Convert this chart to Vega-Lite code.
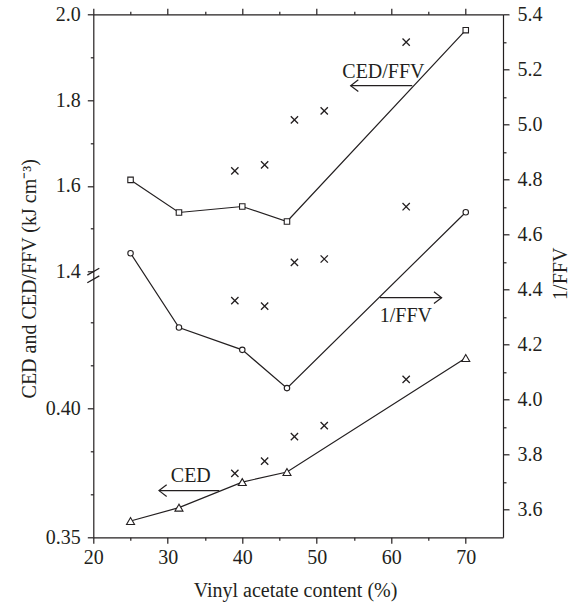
{
  "$schema": "https://vega.github.io/schema/vega-lite/v6.json",
  "width": 409.7,
  "height": 523,
  "autosize": {"type": "none"},
  "padding": {"left": 93.3, "top": 14.3, "right": 75, "bottom": 70.7},
  "background": "white",
  "config": {
    "view": {"stroke": null},
    "axis": {
      "grid": false,
      "domainColor": "#231f20",
      "domainWidth": 1.2,
      "tickColor": "#231f20",
      "tickWidth": 1.2,
      "labelFontSize": 20,
      "labelColor": "#231f20",
      "titleFontSize": 20,
      "titleFontWeight": "normal",
      "titleColor": "#231f20",
      "labelOverlap": false,
      "labelBound": false,
      "labelFlush": false
    }
  },
  "datasets": {
    "left": [
      {"content": 25, "value": 1.614, "quantity": "CED/FFV", "source": "measured"},
      {"content": 31.5, "value": 1.538, "quantity": "CED/FFV", "source": "measured"},
      {"content": 40, "value": 1.552, "quantity": "CED/FFV", "source": "measured"},
      {"content": 46, "value": 1.517, "quantity": "CED/FFV", "source": "measured"},
      {"content": 70, "value": 1.963, "quantity": "CED/FFV", "source": "measured"},
      {"content": 25, "value": 0.3563, "quantity": "CED", "source": "measured"},
      {"content": 31.5, "value": 0.3615, "quantity": "CED", "source": "measured"},
      {"content": 40, "value": 0.3714, "quantity": "CED", "source": "measured"},
      {"content": 46, "value": 0.3753, "quantity": "CED", "source": "measured"},
      {"content": 70, "value": 0.4195, "quantity": "CED", "source": "measured"},
      {"content": 39, "value": 1.635, "quantity": "CED/FFV", "source": "other"},
      {"content": 43, "value": 1.649, "quantity": "CED/FFV", "source": "other"},
      {"content": 47, "value": 1.754, "quantity": "CED/FFV", "source": "other"},
      {"content": 51, "value": 1.775, "quantity": "CED/FFV", "source": "other"},
      {"content": 62, "value": 1.935, "quantity": "CED/FFV", "source": "other"},
      {"content": 39, "value": 0.3748, "quantity": "CED", "source": "other"},
      {"content": 43, "value": 0.3795, "quantity": "CED", "source": "other"},
      {"content": 47, "value": 0.389, "quantity": "CED", "source": "other"},
      {"content": 51, "value": 0.3933, "quantity": "CED", "source": "other"},
      {"content": 62, "value": 0.4112, "quantity": "CED", "source": "other"}
    ],
    "right": [
      {"content": 25, "value": 4.532, "source": "measured"},
      {"content": 31.5, "value": 4.262, "source": "measured"},
      {"content": 40, "value": 4.181, "source": "measured"},
      {"content": 46, "value": 4.042, "source": "measured"},
      {"content": 70, "value": 4.681, "source": "measured"},
      {"content": 39, "value": 4.36, "source": "other"},
      {"content": 43, "value": 4.34, "source": "other"},
      {"content": 47, "value": 4.499, "source": "other"},
      {"content": 51, "value": 4.511, "source": "other"},
      {"content": 62, "value": 4.701, "source": "other"}
    ],
    "notesLeft": [
      {"label": "CED/FFV", "content": 58.95, "value": 1.852, "arrow_from": 62.82, "arrow_to": 54.55, "arrow_at": 1.8336},
      {"label": "CED", "content": 33.09, "value": 0.3713, "arrow_from": 36.91, "arrow_to": 28.82, "arrow_at": 0.3681}
    ],
    "notesRight": [
      {"label": "1/FFV", "content": 61.97, "value": 4.283, "arrow_from": 58.48, "arrow_to": 66.76, "arrow_at": 4.3706}
    ],
    "breaks": [
      {"content": 20, "value": 1.4},
      {"content": 20, "value": 0.45}
    ]
  },
  "resolve": {
    "scale": {"y": "independent"},
    "axis": {"x": "independent", "y": "independent"}
  },
  "layer": [
    {
      "data": {"name": "left"},
      "transform": [{"filter": "datum.source === 'measured'"}],
      "mark": {"type": "line", "color": "#231f20", "strokeWidth": 1.2},
      "encoding": {
        "x": {
          "field": "content", "type": "quantitative",
          "scale": {"domain": [20, 75], "nice": false, "zero": false},
          "axis": {
            "orient": "bottom",
            "values": [20, 30, 40, 50, 60, 70],
            "tickSize": 6,
            "labelPadding": 4,
            "labelFont": {"expr": "'Liberation Serif'"},
            "titleFont": {"expr": "'Liberation Serif'"},
            "title": "Vinyl acetate content (%)",
            "titleX": 201.7,
            "titleY": 59,
            "titleAlign": "center",
            "titleBaseline": "alphabetic"
          }
        },
        "y": {
          "field": "value", "type": "quantitative",
          "scale": {"domain": [0.35, 0.45, 1.4, 2.0], "range": [523, 265, 257.4, 0], "nice": false, "zero": false},
          "axis": {
            "orient": "left",
            "values": [0.35, 0.4, 1.4, 1.6, 1.8, 2.0],
            "labelExpr": "datum.value < 1 ? format(datum.value, '.2f') : format(datum.value, '.1f')",
            "tickSize": 6,
            "labelPadding": 7,
            "labelFont": {"expr": "'Liberation Serif'"},
            "titleFont": {"expr": "'Liberation Serif'"},
            "title": "CED and CED/FFV (kJ cm⁻³)",
            "titleX": -58,
            "titleY": 264,
            "titleAngle": 270,
            "titleAlign": "center",
            "titleBaseline": "alphabetic"
          }
        },
        "detail": {"field": "quantity", "type": "nominal"}
      }
    },
    {
      "data": {"name": "left"},
      "transform": [{"filter": "datum.source === 'measured'"}],
      "mark": {"type": "point", "filled": true, "fill": "white", "stroke": "#231f20", "strokeWidth": 1.1, "opacity": 1},
      "encoding": {
        "x": {"field": "content", "type": "quantitative", "scale": {"domain": [20, 75], "nice": false, "zero": false}, "axis": null},
        "y": {"field": "value", "type": "quantitative", "scale": {"domain": [0.35, 0.45, 1.4, 2.0], "range": [523, 265, 257.4, 0], "nice": false, "zero": false}, "axis": null},
        "shape": {"condition": {"test": "datum.quantity === 'CED'", "value": "triangle-up"}, "value": "square"},
        "size": {"condition": {"test": "datum.quantity === 'CED'", "value": 64}, "value": 30}
      }
    },
    {
      "data": {"name": "left"},
      "transform": [{"filter": "datum.source === 'other'"}],
      "mark": {"type": "point", "shape": "M-1,-1L1,1M-1,1L1,-1", "filled": false, "stroke": "#231f20", "strokeWidth": 1.3, "size": 53, "opacity": 1},
      "encoding": {
        "x": {
          "field": "content", "type": "quantitative",
          "scale": {"domain": [20, 75], "nice": false, "zero": false},
          "axis": {"orient": "bottom", "values": [25, 35, 45, 55, 65], "tickSize": 3, "labels": false, "domain": false, "title": null}
        },
        "y": {
          "field": "value", "type": "quantitative",
          "scale": {"domain": [0.35, 0.45, 1.4, 2.0], "range": [523, 265, 257.4, 0], "nice": false, "zero": false},
          "axis": {"orient": "left", "values": [0.366667, 0.383333, 0.416667, 0.433333, 1.5, 1.7, 1.9], "tickSize": 3, "labels": false, "domain": false, "title": null}
        }
      }
    },
    {
      "data": {"name": "notesLeft"},
      "mark": {"type": "rule", "color": "#231f20", "strokeWidth": 1.2},
      "encoding": {
        "x": {"field": "arrow_from", "type": "quantitative", "scale": {"domain": [20, 75], "nice": false, "zero": false}, "axis": null},
        "x2": {"field": "arrow_to"},
        "y": {"field": "arrow_at", "type": "quantitative", "scale": {"domain": [0.35, 0.45, 1.4, 2.0], "range": [523, 265, 257.4, 0], "nice": false, "zero": false}, "axis": null}
      }
    },
    {
      "data": {"name": "notesLeft"},
      "mark": {"type": "point", "filled": false, "stroke": "#231f20", "strokeWidth": 1.2, "size": 139, "opacity": 1},
      "encoding": {
        "x": {"field": "arrow_to", "type": "quantitative", "scale": {"domain": [20, 75], "nice": false, "zero": false}, "axis": null},
        "y": {"field": "arrow_at", "type": "quantitative", "scale": {"domain": [0.35, 0.45, 1.4, 2.0], "range": [523, 265, 257.4, 0], "nice": false, "zero": false}, "axis": null},
        "shape": {"condition": {"test": "datum.arrow_to < datum.arrow_from", "value": "M1.3,-1L0,0L1.3,1"}, "value": "M-1.3,-1L0,0L-1.3,1"}
      }
    },
    {
      "data": {"name": "notesLeft"},
      "mark": {"type": "text", "font": "Liberation Serif", "fontSize": 20, "color": "#231f20", "align": "center", "baseline": "alphabetic"},
      "encoding": {
        "x": {"field": "content", "type": "quantitative", "scale": {"domain": [20, 75], "nice": false, "zero": false}, "axis": null},
        "y": {"field": "value", "type": "quantitative", "scale": {"domain": [0.35, 0.45, 1.4, 2.0], "range": [523, 265, 257.4, 0], "nice": false, "zero": false}, "axis": null},
        "text": {"field": "label"}
      }
    },
    {
      "data": {"name": "breaks"},
      "mark": {"type": "point", "shape": "M-1,0.58L1,-0.58", "filled": false, "stroke": "#231f20", "strokeWidth": 1.3, "size": 144, "opacity": 1},
      "encoding": {
        "x": {"field": "content", "type": "quantitative", "scale": {"domain": [20, 75], "nice": false, "zero": false}, "axis": null},
        "y": {"field": "value", "type": "quantitative", "scale": {"domain": [0.35, 0.45, 1.4, 2.0], "range": [523, 265, 257.4, 0], "nice": false, "zero": false}, "axis": null}
      }
    },
    {
      "data": {"name": "right"},
      "transform": [{"filter": "datum.source === 'measured'"}],
      "mark": {"type": "line", "color": "#231f20", "strokeWidth": 1.2},
      "encoding": {
        "x": {
          "field": "content", "type": "quantitative",
          "scale": {"domain": [20, 75], "nice": false, "zero": false},
          "axis": {"orient": "top", "values": [20, 30, 40, 50, 60, 70], "tickSize": 6, "labels": false, "title": null}
        },
        "y": {
          "field": "value", "type": "quantitative",
          "scale": {"domain": [3.5, 5.4], "nice": false, "zero": false},
          "axis": {
            "orient": "right",
            "values": [3.6, 3.8, 4.0, 4.2, 4.4, 4.6, 4.8, 5.0, 5.2, 5.4],
            "format": ".1f",
            "tickSize": 6,
            "labelPadding": 8,
            "labelFont": {"expr": "'Liberation Serif'"},
            "titleFont": {"expr": "'Liberation Serif'"},
            "title": "1/FFV",
            "titleX": 63,
            "titleY": 259,
            "titleAngle": 270,
            "titleAlign": "center",
            "titleBaseline": "alphabetic"
          }
        }
      }
    },
    {
      "data": {"name": "right"},
      "transform": [{"filter": "datum.source === 'measured'"}],
      "mark": {"type": "point", "shape": "circle", "filled": true, "fill": "white", "stroke": "#231f20", "strokeWidth": 1.1, "size": 30, "opacity": 1},
      "encoding": {
        "x": {"field": "content", "type": "quantitative", "scale": {"domain": [20, 75], "nice": false, "zero": false}, "axis": null},
        "y": {"field": "value", "type": "quantitative", "scale": {"domain": [3.5, 5.4], "nice": false, "zero": false}, "axis": null}
      }
    },
    {
      "data": {"name": "right"},
      "transform": [{"filter": "datum.source === 'other'"}],
      "mark": {"type": "point", "shape": "M-1,-1L1,1M-1,1L1,-1", "filled": false, "stroke": "#231f20", "strokeWidth": 1.3, "size": 53, "opacity": 1},
      "encoding": {
        "x": {
          "field": "content", "type": "quantitative",
          "scale": {"domain": [20, 75], "nice": false, "zero": false},
          "axis": {"orient": "top", "values": [25, 35, 45, 55, 65], "tickSize": 3, "labels": false, "domain": false, "title": null}
        },
        "y": {
          "field": "value", "type": "quantitative",
          "scale": {"domain": [3.5, 5.4], "nice": false, "zero": false},
          "axis": {"orient": "right", "values": [3.7, 3.9, 4.1, 4.3, 4.5, 4.7, 4.9, 5.1, 5.3], "tickSize": 3, "labels": false, "domain": false, "title": null}
        }
      }
    },
    {
      "data": {"name": "notesRight"},
      "mark": {"type": "rule", "color": "#231f20", "strokeWidth": 1.2},
      "encoding": {
        "x": {"field": "arrow_from", "type": "quantitative", "scale": {"domain": [20, 75], "nice": false, "zero": false}, "axis": null},
        "x2": {"field": "arrow_to"},
        "y": {"field": "arrow_at", "type": "quantitative", "scale": {"domain": [3.5, 5.4], "nice": false, "zero": false}, "axis": null}
      }
    },
    {
      "data": {"name": "notesRight"},
      "mark": {"type": "point", "filled": false, "stroke": "#231f20", "strokeWidth": 1.2, "size": 139, "opacity": 1},
      "encoding": {
        "x": {"field": "arrow_to", "type": "quantitative", "scale": {"domain": [20, 75], "nice": false, "zero": false}, "axis": null},
        "y": {"field": "arrow_at", "type": "quantitative", "scale": {"domain": [3.5, 5.4], "nice": false, "zero": false}, "axis": null},
        "shape": {"condition": {"test": "datum.arrow_to < datum.arrow_from", "value": "M1.3,-1L0,0L1.3,1"}, "value": "M-1.3,-1L0,0L-1.3,1"}
      }
    },
    {
      "data": {"name": "notesRight"},
      "mark": {"type": "text", "font": "Liberation Serif", "fontSize": 20, "color": "#231f20", "align": "center", "baseline": "alphabetic"},
      "encoding": {
        "x": {"field": "content", "type": "quantitative", "scale": {"domain": [20, 75], "nice": false, "zero": false}, "axis": null},
        "y": {"field": "value", "type": "quantitative", "scale": {"domain": [3.5, 5.4], "nice": false, "zero": false}, "axis": null},
        "text": {"field": "label"}
      }
    }
  ]
}
